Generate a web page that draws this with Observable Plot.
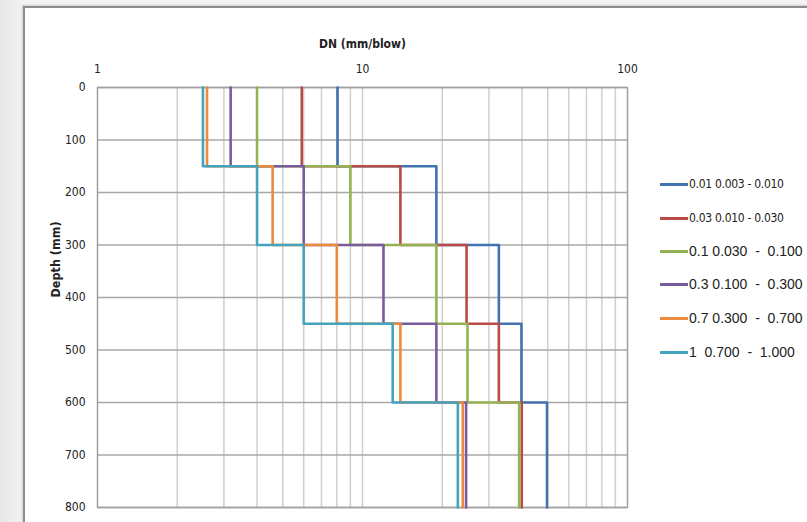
<!DOCTYPE html>
<html>
<head>
<meta charset="utf-8">
<script src="https://cdn.jsdelivr.net/npm/d3@7"></script>
<script src="https://cdn.jsdelivr.net/npm/@observablehq/plot@0.6"></script>
<style>
  html, body { margin: 0; padding: 0; }
  body { width: 807px; height: 522px; overflow: hidden; position: relative;
         background: linear-gradient(to right, #e6e6e6 0px, #f3f3f3 23px, #f3f3f3 100%); }
  #card { position: absolute; left: 23px; top: 6px; width: 800px; height: 530px; background: #fff;
          border-left: 2px solid #8c8c8c; border-top: 2px solid #8c8c8c;
          box-shadow: -1px -1px 2px rgba(0,0,0,0.15); }
  #chart { position: absolute; left: 0; top: 0; }
  #chart svg { background: transparent; }
  #legend { position: absolute; left: 660px; top: 0; font-family: "Liberation Sans", Arial, sans-serif; color: #222; }
  .item { position: absolute; left: 0; white-space: pre; display: flex; align-items: center; }
  .sw { display: inline-block; width: 28px; height: 3px; margin-right: 1px; }
  .narrow { font-family: "Liberation Sans Narrow", "DejaVu Sans Condensed", sans-serif; font-size: 12px; letter-spacing: -0.3px; }
  .wide { font-size: 14px; }
</style>
</head>
<body>
<div id="card"></div>
<div id="chart"></div>
<div id="legend"></div>
<script>
// Layer boundaries (depth, mm)
const depthTop    = [0, 150, 300, 450, 600];
const depthBottom = [150, 300, 450, 600, 800];

// Series names (legend labels)
const seriesNames = [
  "0.01 0.003 - 0.010",
  "0.03 0.010 - 0.030",
  "0.1 0.030  -  0.100",
  "0.3 0.100  -  0.300",
  "0.7 0.300  -  0.700",
  "1  0.700  -  1.000"
];
const seriesColors = ["#4372b0", "#ba4b47", "#93b352", "#7a5c9e", "#ec8a3e", "#44a4bd"];

// DN values (mm/blow) per layer for each series
const dn001 = [8.05, 19.0, 32.7, 39.8, 49.7];
const dn003 = [5.9, 13.9, 24.7, 32.7, 39.9];
const dn01  = [4.0, 9.0, 19.0, 24.9, 39.0];
const dn03  = [3.18, 6.0, 12.0, 19.0, 24.6];
const dn07  = [2.59, 4.58, 8.0, 13.9, 23.9];
const dn1   = [2.5, 4.0, 6.0, 13.0, 22.9];

const seriesValues = [dn001, dn003, dn01, dn03, dn07, dn1];

// Tick values
const xTicks = [1, 10, 100];
const xGrid = [2,3,4,5,6,7,8,9,10,20,30,40,50,60,70,80,90];
const yTicks = [0,100,200,300,400,500,600,700,800];

// Build step vertices from the arrays
const rows = [];
seriesValues.forEach((vals, s) => {
  vals.forEach((v, i) => {
    rows.push({series: seriesNames[s], dn: v, depth: depthTop[i]});
    rows.push({series: seriesNames[s], dn: v, depth: depthBottom[i]});
  });
});

const font = '"Liberation Sans Narrow", "DejaVu Sans Condensed", sans-serif';

const plot = Plot.plot({
  width: 807,
  height: 522,
  marginLeft: 97,
  marginRight: 180,
  marginTop: 87,
  marginBottom: 15,
  style: {fontFamily: font, fontSize: "12px", color: "#222", background: "transparent"},
  x: {type: "log", domain: [1, 100], axis: null},
  y: {domain: [0, 800], reverse: true, axis: null},
  color: {domain: seriesNames, range: seriesColors},
  marks: [
    Plot.ruleX(xGrid, {stroke: "#cfcfcf", strokeWidth: 1.5}),
    Plot.ruleY(yTicks, {stroke: "#a8a8a8", strokeWidth: 1.5}),
    Plot.frame({stroke: "#a0a0a0", strokeWidth: 1.5}),
    Plot.axisX(xTicks, {anchor: "top", tickSize: 0, tickPadding: 15, tickFormat: d => String(d),
      fontSize: 12, label: null}),
    Plot.axisY(yTicks, {anchor: "left", tickSize: 0, tickPadding: 12, tickFormat: d => String(d),
      fontSize: 12, label: null}),
    Plot.text(["DN (mm/blow)"], {frameAnchor: "top", dy: -48, text: d => d, fontWeight: "bold", fontSize: 12}),
    Plot.text(["Depth (mm)"], {frameAnchor: "left", dx: -42, rotate: -90, text: d => d, fontWeight: "bold", fontSize: 12.5}),
    Plot.line(rows, {x: "dn", y: "depth", z: "series", stroke: "series", strokeWidth: 2.6, curve: "linear"})
  ]
});
document.getElementById("chart").appendChild(plot);

// Legend
const legendY = [184, 218, 251, 284, 318, 352];
const leg = document.getElementById("legend");
seriesNames.forEach((name, i) => {
  const item = document.createElement("div");
  item.className = "item " + (i < 2 ? "narrow" : "wide");
  item.style.top = (legendY[i] - 9) + "px";
  item.style.height = "18px";
  const sw = document.createElement("span");
  sw.className = "sw";
  sw.style.background = seriesColors[i];
  item.appendChild(sw);
  item.appendChild(document.createTextNode(name));
  leg.appendChild(item);
});
</script>
</body>
</html>
